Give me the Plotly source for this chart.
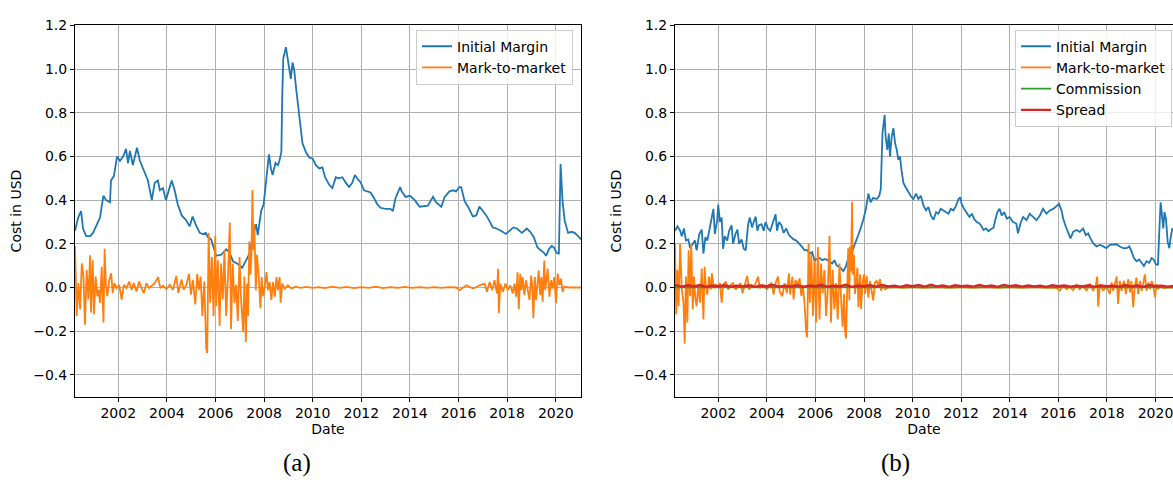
import plotly.graph_objects as go

# ---------------- Panel (a) data ----------------
IM_A_YEARS = [2000.22, 2000.35, 2000.47, 2000.55, 2000.68, 2000.84, 2000.96, 2001.13, 2001.25, 2001.33,
              2001.39, 2001.5, 2001.66, 2001.7, 2001.82, 2001.95, 2002.07, 2002.2, 2002.32, 2002.4,
              2002.48, 2002.6, 2002.77, 2002.89, 2003.1, 2003.22, 2003.3, 2003.38, 2003.5, 2003.63,
              2003.71, 2003.84, 2003.96, 2004.08, 2004.2, 2004.32, 2004.45, 2004.61, 2004.78, 2004.94,
              2005.06, 2005.18, 2005.35, 2005.47, 2005.6, 2005.69, 2005.82, 2006.03, 2006.24, 2006.44,
              2006.58, 2006.72, 2006.92, 2007.1, 2007.26, 2007.4, 2007.53, 2007.67, 2007.74, 2007.88,
              2007.98, 2008.07, 2008.15, 2008.2, 2008.28, 2008.35, 2008.47, 2008.57, 2008.63, 2008.71,
              2008.75, 2008.79, 2008.9, 2008.96, 2009.04, 2009.1, 2009.17, 2009.24, 2009.34, 2009.45,
              2009.58, 2009.72, 2009.86, 2010.0, 2010.13, 2010.27, 2010.4, 2010.51, 2010.68, 2010.81,
              2010.95, 2011.08, 2011.22, 2011.36, 2011.5, 2011.63, 2011.74, 2011.83, 2011.98, 2012.11,
              2012.25, 2012.38, 2012.52, 2012.66, 2012.79, 2012.99, 2013.2, 2013.3, 2013.41, 2013.52,
              2013.6, 2013.66, 2013.82, 2014.0, 2014.2, 2014.4, 2014.6, 2014.74, 2014.95, 2015.08,
              2015.29, 2015.43, 2015.63, 2015.77, 2015.9, 2016.04, 2016.11, 2016.25, 2016.39, 2016.59,
              2016.73, 2016.86, 2017.0, 2017.14, 2017.27, 2017.41, 2017.55, 2017.75, 2017.95, 2018.09,
              2018.26, 2018.4, 2018.61, 2018.81, 2018.95, 2019.1, 2019.24, 2019.38, 2019.51, 2019.6,
              2019.72, 2019.83, 2019.92, 2020.03, 2020.13, 2020.2, 2020.28, 2020.37, 2020.51, 2020.65,
              2020.78, 2020.92, 2021.04]
IM_A_VALUES = [0.26, 0.32, 0.35, 0.27, 0.235, 0.235, 0.25, 0.29, 0.32, 0.38,
               0.42, 0.40, 0.39, 0.49, 0.51, 0.60, 0.58, 0.60, 0.635, 0.57,
               0.625, 0.56, 0.64, 0.58, 0.52, 0.49, 0.445, 0.40, 0.48, 0.49,
               0.445, 0.455, 0.40, 0.445, 0.49, 0.445, 0.38, 0.33, 0.31, 0.28,
               0.325, 0.29, 0.25, 0.245, 0.25, 0.23, 0.22, 0.145, 0.15, 0.175,
               0.16, 0.12, 0.108, 0.09, 0.125, 0.155, 0.23, 0.29, 0.24, 0.35,
               0.38, 0.47, 0.575, 0.61, 0.545, 0.515, 0.57, 0.56, 0.58, 0.62,
               0.89, 1.05, 1.10, 1.05, 0.99, 0.955, 1.03, 0.995, 0.89, 0.77,
               0.66, 0.62, 0.595, 0.59, 0.56, 0.545, 0.55, 0.505, 0.47, 0.455,
               0.505, 0.50, 0.505, 0.48, 0.46, 0.48, 0.515, 0.50, 0.48, 0.445,
               0.44, 0.435, 0.41, 0.38, 0.365, 0.36, 0.36, 0.35, 0.41, 0.44,
               0.46, 0.44, 0.415, 0.42, 0.40, 0.37, 0.375, 0.375, 0.415, 0.39,
               0.37, 0.415, 0.44, 0.445, 0.44, 0.46, 0.46, 0.395, 0.37, 0.325,
               0.33, 0.37, 0.35, 0.33, 0.305, 0.275, 0.27, 0.26, 0.245, 0.26,
               0.275, 0.27, 0.25, 0.27, 0.255, 0.23, 0.185, 0.17, 0.16, 0.145,
               0.175, 0.19, 0.185, 0.16, 0.153, 0.565, 0.395, 0.305, 0.25, 0.255,
               0.25, 0.235, 0.22]

MTM_A_YEARS = [2000.22, 2000.29, 2000.36, 2000.43, 2000.5, 2000.57, 2000.63, 2000.7, 2000.77, 2000.84,
               2000.88, 2000.95, 2001.0, 2001.07, 2001.14, 2001.19, 2001.25, 2001.32, 2001.39, 2001.44,
               2001.49, 2001.55, 2001.63, 2001.71, 2001.77, 2001.84, 2001.93, 2002.04, 2002.14, 2002.23,
               2002.34, 2002.45, 2002.55, 2002.64, 2002.75, 2002.86, 2002.96, 2003.05, 2003.16, 2003.27,
               2003.38, 2003.5, 2003.64, 2003.73, 2003.84, 2003.98, 2004.12, 2004.25, 2004.39, 2004.47,
               2004.6, 2004.69, 2004.8, 2004.91, 2004.99, 2005.07, 2005.17, 2005.25, 2005.32, 2005.39,
               2005.46, 2005.54, 2005.62, 2005.66, 2005.72, 2005.78, 2005.85, 2005.92, 2005.99, 2006.03,
               2006.1, 2006.17, 2006.23, 2006.3, 2006.37, 2006.44, 2006.52, 2006.59, 2006.64, 2006.71,
               2006.78, 2006.85, 2006.92, 2006.99, 2007.05, 2007.14, 2007.19, 2007.25, 2007.3, 2007.34,
               2007.39, 2007.44, 2007.48, 2007.52, 2007.56, 2007.6, 2007.66, 2007.71, 2007.78, 2007.85,
               2007.9, 2007.96, 2008.03, 2008.1, 2008.16, 2008.23, 2008.3, 2008.37, 2008.44, 2008.51,
               2008.57, 2008.64, 2008.68, 2008.75, 2008.85, 2008.98, 2009.12, 2009.3, 2009.5, 2009.75,
               2010.0, 2010.25, 2010.5, 2010.8, 2011.1, 2011.4, 2011.7, 2012.0, 2012.3, 2012.6,
               2012.9, 2013.2, 2013.5, 2013.8, 2014.1, 2014.4, 2014.7, 2015.0, 2015.3, 2015.6,
               2015.91, 2016.05, 2016.32, 2016.6, 2016.87, 2017.07, 2017.17, 2017.28, 2017.39, 2017.48,
               2017.58, 2017.63, 2017.66, 2017.72, 2017.83, 2017.93, 2018.03, 2018.13, 2018.23, 2018.3,
               2018.37, 2018.43, 2018.48, 2018.54, 2018.59, 2018.64, 2018.71, 2018.78, 2018.85, 2018.92,
               2018.99, 2019.03, 2019.08, 2019.14, 2019.19, 2019.25, 2019.3, 2019.36, 2019.41, 2019.46,
               2019.53, 2019.57, 2019.63, 2019.67, 2019.74, 2019.81, 2019.87, 2019.94, 2020.01, 2020.08,
               2020.15, 2020.22, 2020.28, 2020.35, 2020.56, 2020.97, 2021.04]
MTM_A_VALUES = [0.19, -0.13, 0.02, -0.10, 0.11, 0.05, -0.17, 0.08, -0.055, 0.147,
                -0.115, 0.125, -0.123, 0.05, -0.04, -0.01, -0.07, 0.095, -0.16, 0.177,
                0.012, -0.04, 0.035, 0.065, -0.026, 0.02, -0.003, 0.012, -0.055, 0.012,
                -0.003, 0.027, -0.01, 0.02, -0.018, 0.027, -0.003, -0.026, 0.02, -0.003,
                0.008, 0.02, 0.047, -0.003, 0.008, -0.008, 0.012, -0.01, 0.053, -0.026,
                0.037, -0.01, 0.012, 0.062, -0.033, 0.035, -0.078, 0.062, -0.01, 0.05,
                -0.13, 0.027, -0.28, -0.30, 0.25, -0.07, 0.14, -0.13, 0.237, -0.085,
                0.125, -0.175, 0.11, -0.055, 0.17, -0.13, 0.065, 0.297, -0.19, 0.11,
                -0.07, 0.012, -0.153, 0.14, -0.048, -0.205, 0.05, -0.25, 0.018, -0.13,
                0.21, 0.06, 0.15, 0.446, 0.17, 0.29, -0.012, 0.15, 0.05, -0.095,
                0.048, -0.04, 0.003, 0.07, -0.012, 0.025, -0.057, 0.025, -0.042, 0.048,
                -0.012, 0.048, -0.07, 0.018, -0.005, 0.01, -0.004, 0.004, -0.002, 0.003,
                -0.002, 0.002, -0.003, 0.004, -0.002, 0.003, -0.003, 0.002, -0.002, 0.004,
                -0.003, 0.002, -0.002, 0.003, -0.002, 0.002, -0.002, 0.002, -0.002, 0.002,
                0.0, -0.012, 0.01, -0.005, 0.01, 0.018, -0.02, 0.025, -0.012, 0.033,
                -0.027, 0.086, -0.117, 0.018, -0.02, 0.018, -0.012, 0.01, -0.027, 0.018,
                -0.042, 0.07, -0.10, 0.063, -0.012, 0.048, -0.035, 0.033, -0.012, -0.057,
                0.055, 0.01, -0.14, 0.048, -0.057, 0.033, 0.078, -0.035, 0.048, -0.065,
                0.123, -0.012, 0.048, 0.086, -0.042, 0.033, -0.005, 0.048, -0.072, 0.063,
                0.01, 0.04, -0.02, 0.003, 0.0, 0.001, 0.0]

# ---------------- Panel (b) data ----------------
IM_B_YEARS = [2000.22, 2000.32, 2000.43, 2000.5, 2000.59, 2000.67, 2000.77, 2000.84, 2000.95, 2001.04,
              2001.11, 2001.22, 2001.32, 2001.39, 2001.47, 2001.55, 2001.63, 2001.73, 2001.8, 2001.86,
              2001.96, 2002.0, 2002.07, 2002.14, 2002.2, 2002.27, 2002.37, 2002.45, 2002.55, 2002.61,
              2002.71, 2002.79, 2002.86, 2002.96, 2003.05, 2003.13, 2003.23, 2003.3, 2003.39, 2003.46,
              2003.54, 2003.61, 2003.68, 2003.78, 2003.87, 2003.95, 2004.05, 2004.14, 2004.23, 2004.31,
              2004.36, 2004.42, 2004.5, 2004.6, 2004.69, 2004.8, 2004.91, 2005.01, 2005.1, 2005.21,
              2005.35, 2005.46, 2005.55, 2005.65, 2005.76, 2005.87, 2005.96, 2006.06, 2006.17, 2006.28,
              2006.37, 2006.47, 2006.58, 2006.69, 2006.78, 2006.88, 2006.99, 2007.15, 2007.26, 2007.35,
              2007.49, 2007.63, 2007.77, 2007.86, 2007.97, 2008.08, 2008.18, 2008.27, 2008.38, 2008.52,
              2008.63, 2008.69, 2008.76, 2008.8, 2008.85, 2008.89, 2008.96, 2009.02, 2009.07, 2009.14,
              2009.21, 2009.28, 2009.35, 2009.41, 2009.48, 2009.55, 2009.62, 2009.72, 2009.83, 2009.92,
              2010.03, 2010.14, 2010.24, 2010.34, 2010.45, 2010.55, 2010.65, 2010.75, 2010.86, 2010.97,
              2011.06, 2011.16, 2011.27, 2011.38, 2011.48, 2011.57, 2011.68, 2011.79, 2011.89, 2011.96,
              2012.02, 2012.12, 2012.23, 2012.34, 2012.44, 2012.53, 2012.64, 2012.75, 2012.85, 2012.92,
              2013.03, 2013.12, 2013.22, 2013.33, 2013.4, 2013.49, 2013.58, 2013.67, 2013.77, 2013.88,
              2013.99, 2014.14, 2014.27, 2014.34, 2014.44, 2014.55, 2014.69, 2014.82, 2014.96, 2015.1,
              2015.24, 2015.37, 2015.51, 2015.65, 2015.79, 2015.92, 2016.03, 2016.13, 2016.2, 2016.31,
              2016.4, 2016.5, 2016.61, 2016.75, 2016.88, 2017.02, 2017.13, 2017.23, 2017.32, 2017.43,
              2017.57, 2017.71, 2017.85, 2017.98, 2018.12, 2018.26, 2018.4, 2018.53, 2018.67, 2018.81,
              2018.92, 2019.01, 2019.11, 2019.22, 2019.33, 2019.43, 2019.52, 2019.63, 2019.74, 2019.84,
              2019.93, 2020.02, 2020.1, 2020.15, 2020.21, 2020.26, 2020.32, 2020.37, 2020.43, 2020.5,
              2020.57, 2020.62, 2020.69, 2020.85, 2021.04]
IM_B_VALUES = [0.26, 0.28, 0.26, 0.235, 0.27, 0.215, 0.22, 0.18, 0.20, 0.215,
               0.17, 0.245, 0.265, 0.155, 0.23, 0.215, 0.26, 0.32, 0.36, 0.245,
               0.31, 0.38, 0.30, 0.32, 0.177, 0.235, 0.215, 0.26, 0.285, 0.20,
               0.245, 0.265, 0.20, 0.22, 0.177, 0.17, 0.29, 0.32, 0.275, 0.30,
               0.325, 0.26, 0.285, 0.29, 0.26, 0.30, 0.27, 0.26, 0.29, 0.31,
               0.335, 0.26, 0.30, 0.285, 0.25, 0.27, 0.24, 0.23, 0.22, 0.215,
               0.20, 0.185, 0.17, 0.172, 0.155, 0.162, 0.125, 0.13, 0.135, 0.125,
               0.13, 0.128, 0.12, 0.11, 0.125, 0.10, 0.095, 0.075, 0.098, 0.135,
               0.158, 0.20, 0.24, 0.27, 0.31, 0.36, 0.43, 0.39, 0.41, 0.405,
               0.42, 0.45, 0.705, 0.75, 0.79, 0.69, 0.63, 0.705, 0.60, 0.69,
               0.73, 0.66, 0.63, 0.585, 0.60, 0.533, 0.48, 0.458, 0.435, 0.42,
               0.405, 0.43, 0.405, 0.42, 0.375, 0.353, 0.368, 0.33, 0.31, 0.345,
               0.338, 0.36, 0.353, 0.345, 0.338, 0.36, 0.353, 0.375, 0.405, 0.413,
               0.383, 0.36, 0.338, 0.323, 0.338, 0.315, 0.30, 0.293, 0.278, 0.263,
               0.27, 0.258, 0.267, 0.273, 0.308, 0.345, 0.36, 0.33, 0.345, 0.315,
               0.323, 0.30, 0.293, 0.248, 0.293, 0.323, 0.308, 0.338, 0.323, 0.308,
               0.33, 0.36, 0.338, 0.353, 0.36, 0.375, 0.383, 0.353, 0.315, 0.278,
               0.248, 0.225, 0.255, 0.263, 0.255, 0.27, 0.24, 0.248, 0.225, 0.203,
               0.188, 0.195, 0.188, 0.18, 0.195, 0.195, 0.198, 0.188, 0.18, 0.18,
               0.188, 0.165, 0.135, 0.12, 0.128, 0.113, 0.098, 0.12, 0.113, 0.135,
               0.128, 0.105, 0.105, 0.24, 0.39, 0.338, 0.27, 0.345, 0.315, 0.21,
               0.18, 0.225, 0.27, 0.25, 0.24]

MTM_B_YEARS = [2000.22, 2000.27, 2000.32, 2000.37, 2000.43, 2000.5, 2000.57, 2000.62, 2000.67, 2000.73,
               2000.78, 2000.84, 2000.89, 2000.95, 2001.0, 2001.06, 2001.11, 2001.18, 2001.25, 2001.32,
               2001.39, 2001.44, 2001.49, 2001.55, 2001.62, 2001.69, 2001.74, 2001.82, 2001.9, 2002.0,
               2002.07, 2002.14, 2002.2, 2002.31, 2002.41, 2002.51, 2002.61, 2002.72, 2002.82, 2002.92,
               2003.0, 2003.09, 2003.19, 2003.27, 2003.37, 2003.46, 2003.54, 2003.64, 2003.71, 2003.82,
               2003.91, 2004.01, 2004.09, 2004.19, 2004.28, 2004.36, 2004.46, 2004.53, 2004.64, 2004.73,
               2004.83, 2004.91, 2004.96, 2005.05, 2005.1, 2005.18, 2005.28, 2005.35, 2005.42, 2005.48,
               2005.55, 2005.62, 2005.66, 2005.72, 2005.77, 2005.83, 2005.9, 2005.96, 2006.03, 2006.1,
               2006.17, 2006.23, 2006.3, 2006.37, 2006.44, 2006.51, 2006.58, 2006.64, 2006.71, 2006.78,
               2006.85, 2006.92, 2006.99, 2007.08, 2007.12, 2007.18, 2007.22, 2007.26, 2007.31, 2007.35,
               2007.4, 2007.42, 2007.46, 2007.51, 2007.53, 2007.59, 2007.63, 2007.67, 2007.73, 2007.77,
               2007.84, 2007.88, 2007.95, 2008.0, 2008.05, 2008.11, 2008.18, 2008.25, 2008.32, 2008.38,
               2008.45, 2008.52, 2008.59, 2008.66, 2008.7, 2008.77, 2008.87, 2009.0, 2009.3, 2009.6,
               2010.0, 2010.5, 2011.0, 2011.5, 2012.0, 2012.5, 2013.0, 2013.5, 2014.0, 2014.5,
               2015.0, 2015.5, 2015.9, 2016.06, 2016.2, 2016.34, 2016.47, 2016.61, 2016.75, 2016.88,
               2017.02, 2017.16, 2017.3, 2017.43, 2017.54, 2017.6, 2017.64, 2017.71, 2017.85, 2017.98,
               2018.12, 2018.19, 2018.26, 2018.4, 2018.46, 2018.53, 2018.6, 2018.7, 2018.78, 2018.88,
               2018.95, 2019.01, 2019.08, 2019.15, 2019.22, 2019.29, 2019.36, 2019.43, 2019.49, 2019.56,
               2019.63, 2019.7, 2019.77, 2019.84, 2019.91, 2019.98, 2020.04, 2020.11, 2020.18, 2020.32,
               2020.59, 2021.04]
MTM_B_VALUES = [0.20, -0.123, 0.08, -0.086, 0.20, -0.01, -0.07, -0.258, 0.05, -0.16,
                0.17, -0.04, 0.20, -0.10, 0.05, -0.055, -0.086, 0.012, -0.07, 0.087,
                -0.146, 0.095, 0.005, -0.033, 0.05, -0.01, 0.065, -0.003, 0.012, 0.005,
                0.02, -0.07, 0.012, 0.027, -0.01, 0.012, 0.02, -0.01, 0.005, 0.02,
                -0.026, 0.012, 0.053, -0.01, 0.012, 0.005, 0.02, 0.05, -0.003, 0.012,
                0.005, -0.01, 0.012, 0.02, -0.033, 0.02, 0.05, -0.018, -0.04, 0.02,
                -0.026, 0.065, -0.033, 0.05, -0.055, 0.035, 0.012, 0.042, -0.04, 0.012,
                -0.07, -0.205, -0.228, 0.20, -0.07, 0.155, -0.13, 0.125, -0.16, 0.185,
                -0.146, 0.11, -0.026, 0.08, -0.13, -0.01, 0.237, -0.16, 0.08, -0.10,
                0.02, -0.146, 0.11, -0.105, -0.18, -0.03, -0.20, -0.233, 0.03, 0.18,
                -0.06, 0.188, 0.075, 0.393, 0.06, 0.15, -0.03, 0.03, 0.09, -0.09,
                0.06, -0.098, 0.03, 0.06, -0.03, 0.053, -0.045, 0.03, -0.015, -0.06,
                0.023, 0.03, 0.008, 0.038, -0.015, 0.008, -0.008, 0.0, 0.002, -0.002,
                0.002, -0.002, 0.002, -0.002, 0.002, -0.002, 0.002, -0.002, 0.002, -0.002,
                0.002, -0.002, 0.0, -0.015, 0.008, -0.008, 0.003, -0.012, 0.012, -0.008,
                0.008, -0.015, 0.018, -0.015, 0.008, 0.05, -0.087, 0.015, -0.015, 0.008,
                -0.03, 0.023, -0.015, 0.05, -0.075, 0.03, -0.015, 0.03, -0.03, 0.038,
                -0.023, 0.03, -0.09, 0.008, 0.045, -0.03, 0.03, -0.015, 0.015, 0.06,
                -0.015, 0.023, -0.008, 0.03, 0.008, -0.045, 0.015, -0.008, 0.008, -0.003,
                0.0, 0.0]

COMMISSION_B_YEARS = [2000.22, 2004.0, 2008.0, 2012.0, 2016.0, 2021.04]
COMMISSION_B_VALUES = [0.001, 0.001, 0.001, 0.001, 0.001, 0.001]

SPREAD_B_YEARS = [2000.22, 2000.5, 2000.75, 2001.0, 2001.25, 2001.5, 2001.75, 2002.0, 2002.25, 2002.5,
                  2002.75, 2003.0, 2003.25, 2003.5, 2003.75, 2004.0, 2004.25, 2004.5, 2004.75, 2005.0,
                  2005.25, 2005.5, 2005.75, 2006.0, 2006.25, 2006.5, 2006.75, 2007.0, 2007.25, 2007.5,
                  2007.75, 2008.0, 2008.25, 2008.5, 2008.75, 2009.0, 2009.25, 2009.5, 2009.75, 2010.0,
                  2010.25, 2010.5, 2010.75, 2011.0, 2011.25, 2011.5, 2011.75, 2012.0, 2012.25, 2012.5,
                  2012.75, 2013.0, 2013.25, 2013.5, 2013.75, 2014.0, 2014.25, 2014.5, 2014.75, 2015.0,
                  2015.25, 2015.5, 2015.75, 2016.0, 2016.25, 2016.5, 2016.75, 2017.0, 2017.25, 2017.5,
                  2017.75, 2018.0, 2018.25, 2018.5, 2018.75, 2019.0, 2019.25, 2019.5, 2019.75, 2020.0,
                  2020.25, 2020.5, 2020.75, 2021.04]
SPREAD_B_VALUES = [0.012, 0.004, 0.010, 0.005, 0.011, 0.003, 0.009, 0.006, 0.010, 0.004,
                   0.008, 0.005, 0.010, 0.003, 0.009, 0.006, 0.011, 0.004, 0.008, 0.005,
                   0.010, 0.003, 0.009, 0.006, 0.011, 0.004, 0.008, 0.005, 0.012, 0.003,
                   0.009, 0.006, 0.010, 0.004, 0.011, 0.005, 0.008, 0.003, 0.010, 0.006,
                   0.011, 0.004, 0.012, 0.005, 0.009, 0.003, 0.010, 0.006, 0.008, 0.004,
                   0.011, 0.005, 0.009, 0.003, 0.012, 0.006, 0.010, 0.004, 0.009, 0.005,
                   0.008, 0.003, 0.010, 0.006, 0.009, 0.004, 0.008, 0.005, 0.010, 0.003,
                   0.009, 0.006, 0.008, 0.004, 0.010, 0.005, 0.009, 0.003, 0.011, 0.006,
                   0.008, 0.004, 0.007, 0.005]

X_TICKS = [2002, 2004, 2006, 2008, 2010, 2012, 2014, 2016, 2018, 2020]
X_TICK_TEXT = ["2002", "2004", "2006", "2008", "2010", "2012", "2014", "2016", "2018", "2020"]
Y_TICKS = [-0.4, -0.2, 0.0, 0.2, 0.4, 0.6, 0.8, 1.0, 1.2]
Y_TICK_TEXT = ["\u22120.4", "\u22120.2", "0.0", "0.2", "0.4", "0.6", "0.8", "1.0", "1.2"]

BLUE, ORANGE, GREEN, RED = "#1f77b4", "#ff7f0e", "#2ca02c", "#d62728"
FONT = "DejaVu Sans"
FS = 14
W, H = 1173, 500

fig = go.Figure()
lw = 1.8
fig.add_trace(go.Scatter(x=IM_A_YEARS, y=IM_A_VALUES, mode="lines", name="Initial Margin",
                         line=dict(color=BLUE, width=lw), xaxis="x", yaxis="y", legend="legend"))
fig.add_trace(go.Scatter(x=MTM_A_YEARS, y=MTM_A_VALUES, mode="lines", name="Mark-to-market",
                         line=dict(color=ORANGE, width=lw), xaxis="x", yaxis="y", legend="legend"))
fig.add_trace(go.Scatter(x=IM_B_YEARS, y=IM_B_VALUES, mode="lines", name="Initial Margin",
                         line=dict(color=BLUE, width=lw), xaxis="x2", yaxis="y2", legend="legend2"))
fig.add_trace(go.Scatter(x=MTM_B_YEARS, y=MTM_B_VALUES, mode="lines", name="Mark-to-market",
                         line=dict(color=ORANGE, width=lw), xaxis="x2", yaxis="y2", legend="legend2"))
fig.add_trace(go.Scatter(x=COMMISSION_B_YEARS, y=COMMISSION_B_VALUES, mode="lines", name="Commission",
                         line=dict(color=GREEN, width=lw), xaxis="x2", yaxis="y2", legend="legend2"))
fig.add_trace(go.Scatter(x=SPREAD_B_YEARS, y=SPREAD_B_VALUES, mode="lines", name="Spread",
                         line=dict(color=RED, width=2.4), xaxis="x2", yaxis="y2", legend="legend2"))

top_px, bot_px = 17.7, 395.0
ydom = [(H - bot_px) / H, (H - top_px) / H]

def xaxis(domain, rng, mirror):
    return dict(domain=domain, range=rng, tickmode="array", tickvals=X_TICKS, ticktext=X_TICK_TEXT,
                showgrid=True, gridcolor="#b0b0b0", gridwidth=0.8, zeroline=False,
                showline=True, linecolor="black", linewidth=1, mirror=mirror,
                ticks="outside", ticklen=4, tickwidth=1, tickcolor="black",
                ticklabeloverflow="allow",
                tickfont=dict(family=FONT, size=FS, color="black"),
                title=dict(text="Date", font=dict(family=FONT, size=FS, color="black"), standoff=3))

def yaxis(anchor, mirror):
    return dict(domain=ydom, range=[-0.5, 1.2], anchor=anchor, tickmode="array", tickvals=Y_TICKS,
                ticktext=Y_TICK_TEXT, showgrid=True, gridcolor="#b0b0b0", gridwidth=0.8, zeroline=False,
                showline=True, linecolor="black", linewidth=1, mirror=mirror,
                ticks="outside", ticklen=4, tickwidth=1, tickcolor="black",
                tickfont=dict(family=FONT, size=FS, color="black"),
                title=dict(text="Cost in USD", font=dict(family=FONT, size=FS, color="black"), standoff=8))

xa = xaxis([75 / W, 581 / W], [2000.22, 2021.04], True)
xa["anchor"] = "y"
xb = xaxis([675 / W, 1.0], [2000.22, 2020.72], True)
xb["anchor"] = "y2"

legend_style = dict(bgcolor="rgba(255,255,255,0.8)", bordercolor="#cccccc", borderwidth=1,
                    font=dict(family=FONT, size=FS, color="black"), xanchor="right", yanchor="top",
                    y=(H - 22) / H, tracegroupgap=0, itemwidth=30)

fig.update_layout(
    width=W, height=H, margin=dict(l=0, r=0, t=0, b=0),
    paper_bgcolor="white", plot_bgcolor="white",
    font=dict(family=FONT, size=FS, color="black"),
    xaxis=xa, yaxis=yaxis("x", True),
    xaxis2=xb, yaxis2=yaxis("x2", False),
    legend=dict(x=573 / W, **legend_style),
    legend2=dict(x=1172 / W, **legend_style),
    showlegend=True,
    annotations=[
        dict(text="(a)", x=297 / W, y=(H - 462) / H, xref="paper", yref="paper", showarrow=False,
             font=dict(family="Liberation Serif", size=25, color="black"), xanchor="center", yanchor="middle"),
        dict(text="(b)", x=895 / W, y=(H - 462) / H, xref="paper", yref="paper", showarrow=False,
             font=dict(family="Liberation Serif", size=25, color="black"), xanchor="center", yanchor="middle"),
    ],
)

fig.write_html("out.html")
